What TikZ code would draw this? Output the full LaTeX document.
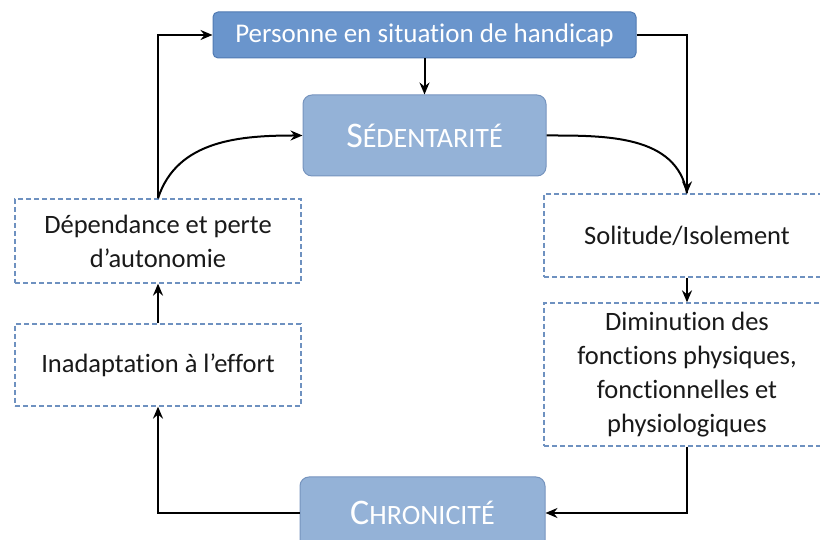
\documentclass[tikz,border=0pt]{standalone}
\usepackage{fontspec}
\setmainfont{Carlito}[Ligatures={NoCommon}]
\usetikzlibrary{arrows.meta}
\usetikzlibrary{positioning}
\definecolor{HandFill}{RGB}{106,149,204}
\definecolor{HandLine}{RGB}{80,122,178}
\definecolor{EtatFill}{RGB}{148,178,215}
\definecolor{EtatLine}{RGB}{118,148,190}
\definecolor{DashLine}{RGB}{110,145,192}
\definecolor{TextDark}{RGB}{25,25,25}
\newcommand{\petitescaps}[2]{{\fontsize{36}{38}\selectfont #1}{\fontsize{28}{30}\selectfont #2}}

\begin{document}
\begin{tikzpicture}[x=1pt,y=1pt,
	handbox/.style={draw=HandLine,line width=1pt,fill=HandFill,rounded corners=5pt,text=white,
		minimum width=423pt,minimum height=46pt,font=\fontsize{27}{30}\selectfont},
	etatbox/.style={draw=EtatLine,line width=1pt,fill=EtatFill,rounded corners=9pt,text=white,
		minimum width=243pt,minimum height=81pt},
	effetbox/.style={draw=DashLine,line width=1.3pt,dash pattern=on 5pt off 3pt,text=TextDark,
		minimum width=286pt,align=center,font=\fontsize{26.5}{34}\selectfont},
	fleche/.style={-{Stealth[length=12pt,width=10pt,inset=4pt]},line width=2pt,black}]
	\useasboundingbox (0,0) rectangle (820,540);
	% noeuds
	\node[handbox] (hand) at (424.5,505) {Personne en situation de handicap};
	\node[etatbox] (sed) at (424.5,404.5) {\petitescaps{S}{ÉDENTARITÉ}};
	\node[etatbox,minimum width=245pt,minimum height=72pt] (chr) at (422.5,27) {\petitescaps{C}{HRONICITÉ}};
	\node[effetbox,minimum height=84pt] (dep) at (158,299) {Dépendance et perte\\d’autonomie};
	\node[effetbox,minimum height=82pt] (inad) at (158,175) {Inadaptation à l’effort};
	\node[effetbox,minimum height=83pt] (sol) at (687,304.5) {Solitude/Isolement};
	\node[effetbox,minimum height=143pt] (dim) at (687,165.5) {Diminution des\\fonctions physiques,\\fonctionnelles et\\physiologiques};
	% liaisons
	\draw[fleche] (hand.south) -- (sed.north);
	\draw[fleche] (dep.north) |- (hand.west);
	\draw[fleche] (dep.north) to[out=72,in=180] (sed.west);
	\draw[fleche] (hand.east) -| (sol.north);
	\draw[line width=2pt] (sed.east) to[out=0,in=100] (sol.north);
	\draw[fleche] (sol.south) -- (dim.north);
	\draw[fleche] (dim.south) |- (chr.east);
	\draw[fleche] (chr.west) -| (inad.south);
	\draw[fleche] (inad.north) -- (dep.south);
\end{tikzpicture}
\end{document}
